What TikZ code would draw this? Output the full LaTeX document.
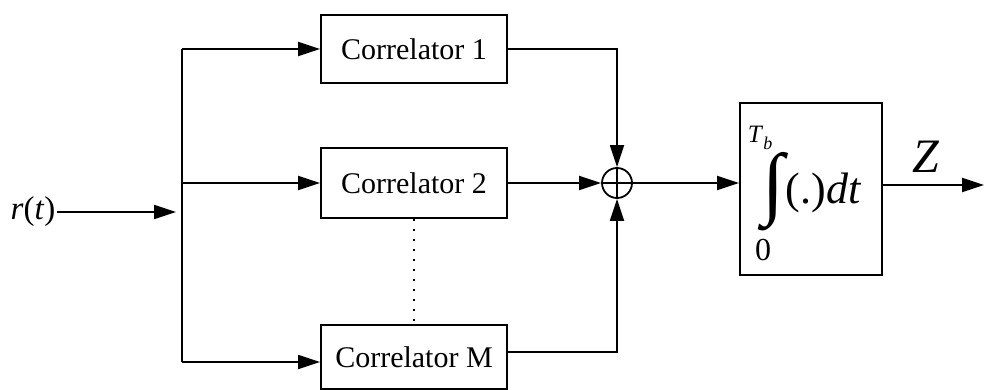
\documentclass[tikz,border=0pt]{standalone}
\usepackage{fontspec}
\setmainfont{Liberation Serif}
\usetikzlibrary{arrows.meta}
\begin{document}
\begin{tikzpicture}[x=1pt,y=-1pt,
  line width=1.8pt,
  arr/.style={-{Triangle[length=22pt,width=14pt]}},
  corr/.style={draw,minimum width=186pt,inner sep=0pt,
    font=\fontsize{30}{30}\selectfont},
  lbl/.style={inner sep=1pt}
]
\useasboundingbox (0,0) rectangle (984,390);

% correlator bank
\node[corr,minimum height=68pt] (c1) at (414,49) {Correlator 1};
\node[corr,minimum height=70pt] (c2) at (414,183) {Correlator 2};
\node[corr,minimum height=64pt] (cM) at (414,357) {Correlator M};
\draw[dotted,dash pattern=on 2pt off 8pt] (c2.south) -- (cM.north);
\coordinate (cMin) at ([yshift=-5pt]cM.west);
\coordinate (cMout) at ([yshift=5pt]cM.east);

% input and splitting bus
\node[lbl] (rt) at (33,212) {\fontsize{33}{33}\selectfont\textit{r}(\textit{t})};
\coordinate (split) at (182,212);
\draw[arr] (rt.east) -- ([xshift=-6pt]split);
\draw (split |- c1.west) -- (split |- cMin);
\draw[arr] (split |- c1.west) -- (c1.west);
\draw[arr] (split |- c2.west) -- (c2.west);
\draw[arr] (split |- cMin) -- (cMin);

% summing junction
\node[draw,circle,minimum size=30pt,inner sep=0pt] (sum) at (617,183) {};
\draw[line width=1.2pt] (sum.north) -- (sum.south) (sum.west) -- (sum.east);
\draw[arr] (c1.east) -| (sum.north);
\draw[arr] (c2.east) -- (sum.west);
\draw[arr] (cMout) -| (sum.south);

% integrator
\node[draw,minimum width=142pt,minimum height=172pt,inner sep=0pt] (integ) at (811,189) {};
\node[inner sep=0pt] (isign) at (773,192) {\fontsize{80}{80}\selectfont ∫};
\node[anchor=base west,inner sep=0pt] (ibody) at (785,203) {\fontsize{44}{44}\selectfont(.)\textit{dt}};
\node[anchor=base west,inner sep=0pt] (iup) at (747,143) {\fontsize{25}{25}\selectfont\textit{T}\raisebox{-6pt}{\fontsize{18}{18}\selectfont\textit{b}}};
\node[anchor=base,inner sep=0pt] (ilow) at (763,260) {\fontsize{32}{32}\selectfont 0};
\draw[arr] (sum.east) -- (sum.east -| integ.west);

% output
\coordinate (out) at (984,185);
\draw[arr] (integ.east |- out) -- (out);
\node[anchor=base,inner sep=0pt] (zl) at (926,172) {\fontsize{48}{48}\selectfont\textit{Z}};
\end{tikzpicture}
\end{document}
